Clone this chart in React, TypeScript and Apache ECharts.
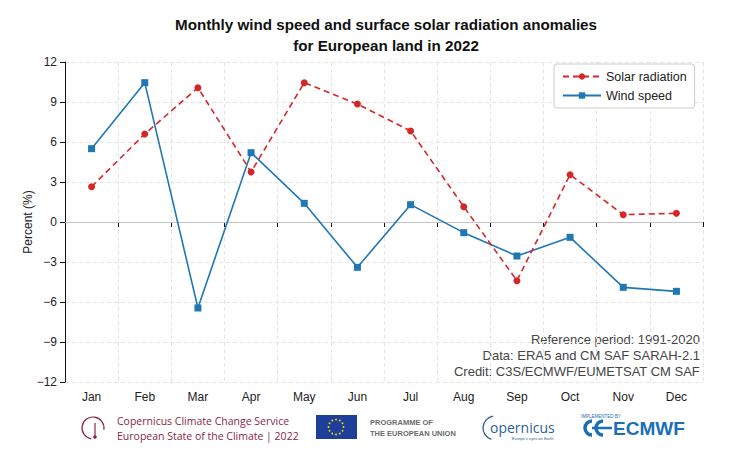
import React, { useEffect, useRef } from "react";
import * as echarts from "echarts";

const months = ["Jan", "Feb", "Mar", "Apr", "May", "Jun", "Jul", "Aug", "Sep", "Oct", "Nov", "Dec"];
const solarRadiation = [2.65, 6.6, 10.07, 3.75, 10.45, 8.85, 6.83, 1.15, -4.4, 3.55, 0.55, 0.65];
const windSpeed = [5.5, 10.45, -6.45, 5.2, 1.4, -3.4, 1.3, -0.8, -2.55, -1.15, -4.9, -5.2];
const yTicks = { min: -12, max: 12, interval: 3 };
const creditLines = [
  "Reference period: 1991-2020",
  "Data: ERA5 and CM SAF SARAH-2.1",
  "Credit: C3S/ECMWF/EUMETSAT CM SAF",
];

const FONT = "Liberation Sans, Arial, sans-serif";

export default function App() {
  const ref = useRef<HTMLDivElement>(null);
  useEffect(() => {
    document.body.style.margin = "0";
    const chart = echarts.init(ref.current!, null, { renderer: "svg" });

    const stars: any[] = [];
    for (let i = 0; i < 12; i++) {
      const a = (i / 12) * Math.PI * 2;
      stars.push({
        type: "circle",
        shape: { cx: 336 + Math.cos(a) * 7.5, cy: 427 + Math.sin(a) * 7.5, r: 0.9 },
        style: { fill: "#ffdd00" },
      });
    }

    chart.setOption({
      animation: false,
      backgroundColor: "#ffffff",
      textStyle: { fontFamily: FONT },
      title: {
        text: "Monthly wind speed and surface solar radiation anomalies\nfor European land in 2022",
        left: 381,
        textAlign: "center",
        top: 9,
        textStyle: { fontSize: 15.2, fontWeight: "bold", color: "#111", lineHeight: 21, fontFamily: FONT },
      },
      grid: { left: 65, right: 37, top: 62, bottom: 68 },
      legend: {
        orient: "vertical",
        left: 554,
        top: 64,
        itemWidth: 38,
        itemHeight: 8,
        itemGap: 6,
        padding: [6, 8, 6, 8],
        borderColor: "#cccccc",
        borderWidth: 1,
        borderRadius: 3,
        backgroundColor: "#fff",
        textStyle: { fontSize: 12.5, color: "#222", fontFamily: FONT },
        data: ["Solar radiation", "Wind speed"],
      },
      xAxis: {
        type: "category",
        data: months,
        boundaryGap: true,
        axisLine: { lineStyle: { color: "#111", width: 1 } },
        axisTick: { show: true, interval: 0, length: 5, lineStyle: { color: "#111" } },
        axisLabel: { color: "#222", fontSize: 12, margin: 9, interval: 0, fontFamily: FONT },
        splitLine: { show: true, interval: 0, lineStyle: { color: "#e4e4e4", type: [4, 3], width: 1 } },
      },
      yAxis: {
        type: "value",
        min: yTicks.min,
        max: yTicks.max,
        interval: yTicks.interval,
        name: "Percent (%)",
        nameLocation: "middle",
        nameGap: 31,
        nameMoveOverlap: false,
        nameTextStyle: { fontSize: 12, color: "#222", fontFamily: FONT },
        axisLine: { show: true, lineStyle: { color: "#111", width: 1 } },
        axisTick: { show: true, length: 5, lineStyle: { color: "#111" } },
        axisLabel: {
          color: "#222",
          fontSize: 12,
          margin: 8,
          fontFamily: FONT,
          formatter: (v: number) => String(v).replace("-", "\u2212"),
        },
        splitLine: { show: true, lineStyle: { color: "#e4e4e4", type: [4, 3], width: 1 } },
      },
      series: [
        {
          name: "Solar radiation",
          type: "line",
          data: solarRadiation,
          symbol: "circle",
          symbolSize: 7,
          z: 3,
          itemStyle: { color: "#d62728" },
          lineStyle: { color: "#d62728", width: 1.6, type: [6, 4] },
          markLine: {
            silent: true,
            symbol: "none",
            label: { show: false },
            lineStyle: { color: "#c4c4c4", type: "solid", width: 1 },
            data: [{ yAxis: 0 }],
            z: 1,
          },
        },
        {
          name: "Wind speed",
          type: "line",
          data: windSpeed,
          symbol: "rect",
          symbolSize: 7,
          z: 2,
          itemStyle: { color: "#1f77b4" },
          lineStyle: { color: "#1f77b4", width: 1.6, type: "solid" },
        },
      ],
      graphic: [
        ...creditLines.map((t, i) => ({
          type: "text",
          right: 40,
          top: 333 + i * 16,
          style: { text: t, fontSize: 13, fill: "#444", fontFamily: FONT, align: "right" },
        })),
        // C3S logo
        { type: "arc", shape: { cx: 93, cy: 428, r: 11, startAngle: Math.PI * 0.55, endAngle: Math.PI * 2.05 }, style: { stroke: "#8a2846", lineWidth: 1.2, fill: "none" } },
        { type: "line", shape: { x1: 95, y1: 423, x2: 95, y2: 436 }, style: { stroke: "#8a2846", lineWidth: 1.2 } },
        { type: "circle", shape: { cx: 95, cy: 437, r: 1.8 }, style: { fill: "#8a2846" } },
        { type: "text", x: 117, y: 415, style: { text: "Copernicus Climate Change Service", fontSize: 10.5, fill: "#8a2846", fontFamily: "Open Sans, Liberation Sans, sans-serif" } },
        { type: "text", x: 117, y: 430, style: { text: "European State of the Climate | 2022", fontSize: 10.5, fill: "#8a2846", fontFamily: "Open Sans, Liberation Sans, sans-serif" } },
        // EU flag
        { type: "rect", shape: { x: 316, y: 415, width: 41, height: 24 }, style: { fill: "#1d3f9a" } },
        ...stars,
        { type: "text", x: 370, y: 418, style: { text: "PROGRAMME OF", fontSize: 7.5, fontWeight: "bold", fill: "#6b6b6b", fontFamily: FONT } },
        { type: "text", x: 370, y: 429, style: { text: "THE EUROPEAN UNION", fontSize: 7.5, fontWeight: "bold", fill: "#6b6b6b", fontFamily: FONT } },
        // Copernicus logo
        { type: "arc", shape: { cx: 495, cy: 428, r: 12, startAngle: Math.PI * 0.6, endAngle: Math.PI * 1.45 }, style: { stroke: "#2d5f93", lineWidth: 1.3, fill: "none" } },
        { type: "text", x: 490, y: 420, style: { text: "opernicus", fontSize: 14, fill: "#2d5f93", fontFamily: "Open Sans, Liberation Sans, sans-serif" } },
        { type: "text", x: 512, y: 436, style: { text: "Europe's eyes on Earth", fontSize: 4, fill: "#2d5f93", fontFamily: FONT } },
        // ECMWF logo
        { type: "text", x: 581, y: 414, style: { text: "IMPLEMENTED BY", fontSize: 4.5, fill: "#1a6fb5", fontFamily: FONT } },
        { type: "arc", shape: { cx: 592, cy: 428, r: 7, startAngle: Math.PI * 0.5, endAngle: Math.PI * 1.5 }, style: { stroke: "#1a6fb5", lineWidth: 3.5, fill: "none" } },
        { type: "arc", shape: { cx: 603, cy: 428, r: 7, startAngle: Math.PI * 0.5, endAngle: Math.PI * 1.5 }, style: { stroke: "#1a6fb5", lineWidth: 3.5, fill: "none" } },
        { type: "line", shape: { x1: 592, y1: 428, x2: 612, y2: 428 }, style: { stroke: "#1a6fb5", lineWidth: 2.5 } },
        { type: "text", x: 613, y: 419, style: { text: "ECMWF", fontSize: 19, fontWeight: "bold", fill: "#1a6fb5", fontFamily: FONT } },
      ],
    });
    return () => chart.dispose();
  }, []);
  return <div ref={ref} style={{ width: 740, height: 450 }} />;
}
